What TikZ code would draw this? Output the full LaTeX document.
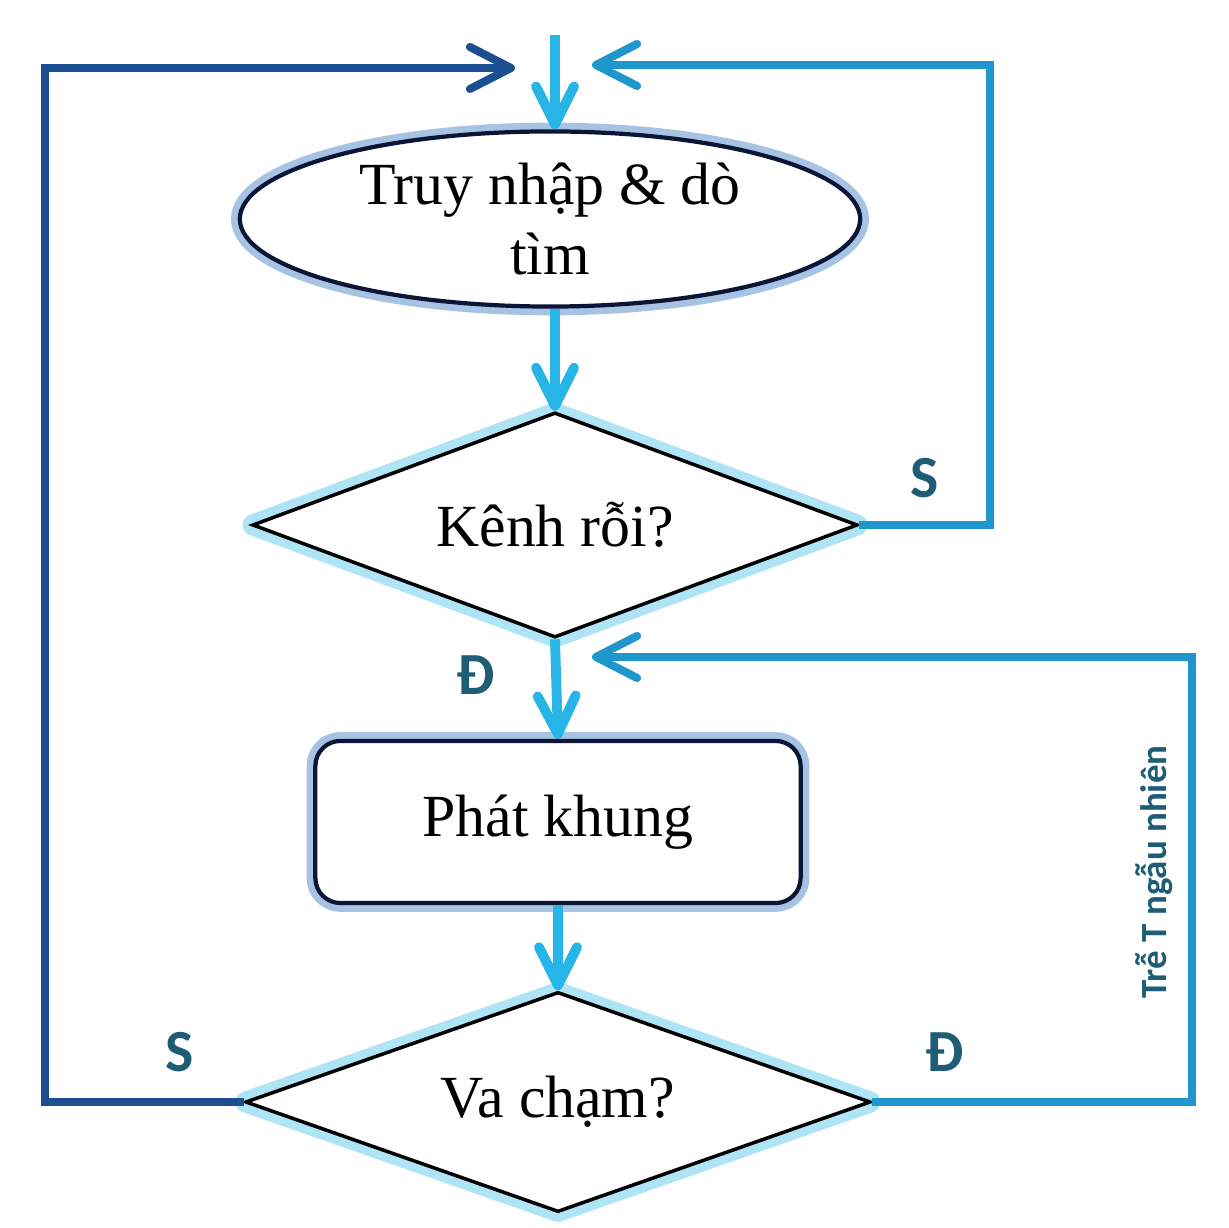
\documentclass[tikz,border=0pt]{standalone}
\usepackage{fontspec}
\setmainfont{Liberation Serif}
\newfontfamily\labelfont{Carlito}
\usetikzlibrary{shapes.geometric, arrows.meta}

\definecolor{arrowcyan}{RGB}{39,181,232}
\definecolor{loopblue}{RGB}{31,150,204}
\definecolor{loopdark}{RGB}{28,79,145}
\definecolor{labelteal}{RGB}{31,92,118}
\definecolor{framenavy}{RGB}{11,21,53}
\definecolor{glowblue}{RGB}{108,155,210}
\definecolor{glowcyan}{RGB}{120,210,240}

\tikzset{
	flowtext/.style={font=\fontsize{17}{20}\selectfont, text=black, align=center, inner sep=0pt},
	startbox/.style={flowtext, ellipse, draw=framenavy, line width=1.2pt, fill=white,
		preaction={draw=glowblue, line width=5pt, opacity=0.6},
		minimum width=6.2cm, minimum height=1.75cm},
	actbox/.style={flowtext, rectangle, rounded corners=0.25cm, draw=framenavy, line width=1.2pt, fill=white,
		preaction={draw=glowblue, line width=5pt, opacity=0.6},
		minimum width=4.85cm, minimum height=1.62cm},
	askbox/.style={flowtext, diamond, shape aspect=2.65, draw=black, line width=1pt, fill=white,
		preaction={draw=glowcyan, line width=6pt, line join=round, opacity=0.6}},
	branch/.style={font=\labelfont\bfseries\fontsize{17}{20}\selectfont, text=labelteal, inner sep=0pt},
	godown/.style={draw=arrowcyan, line width=2.8pt,
		-{Straight Barb[length=3.8mm, width=3.8mm, line cap=round, line join=round]}},
	loopback/.style={line width=2.3pt, line join=miter,
		-{Straight Barb[length=4.1mm, width=4.2mm, line cap=round, line join=round]}}
}

\begin{document}
\begin{tikzpicture}[x=0.01cm, y=-0.01cm]

	\useasboundingbox (0,0) rectangle (1229,1228);

	%Khoi
	\node [startbox] (ell) at (550,219) {Truy nhập \& dò\\tìm};
	\node [askbox, minimum width=6.05cm, minimum height=2.25cm] (d1) at (555,525) {Kênh rỗi?};
	\node [actbox] (box) at (558,822) {Phát khung};
	\node [askbox, minimum width=6.25cm, minimum height=2.2cm] (d2) at (558,1102) {Va chạm?};

	%Diem
	\coordinate (start) at (555,35);
	\coordinate (rtop) at (990,65);
	\coordinate (rin) at (592,65);
	\coordinate (ltop) at (45,68);
	\coordinate (lin) at (515,68);
	\coordinate (ttop) at (1192,657);
	\coordinate (tin) at (592,657);

	%Mui ten xuong
	\draw [godown] (start) -- (ell.north -| start);
	\draw [godown] (ell.south -| start) -- (d1.north);
	\foreach \a/\b in {d1/box, box/d2}
	{
		\draw [godown] (\a.south) -- (\b.north);
	}

	%Vong lap
	\draw [loopback, loopblue] (d1.east) -| (rtop) -- (rin);
	\draw [loopback, loopblue] (d2.east) -| (ttop) -- (tin);
	\draw [loopback, loopdark] (d2.west) -| (ltop) -- (lin);

	%Nhan
	\node [branch] (s1) at (925,478) {S};
	\node [branch] (t1) at (476,675) {Đ};
	\node [branch] (s2) at (180,1052) {S};
	\node [branch] (t2) at (945,1052) {Đ};
	\node [font=\labelfont\bfseries\fontsize{10.5}{12}\selectfont, text=labelteal, rotate=90, inner sep=0pt]
		(delay) at (1154,872) {Trễ T ngẫu nhiên};

\end{tikzpicture}
\end{document}
